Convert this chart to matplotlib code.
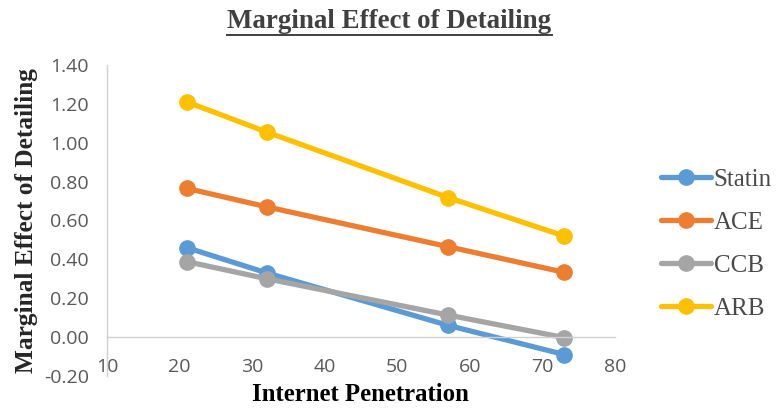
import matplotlib
matplotlib.use("Agg")
import matplotlib.pyplot as plt
from matplotlib.lines import Line2D

internet_penetration = [21, 32, 57, 73]
series_names = ["Statin", "ACE", "CCB", "ARB"]
statin = [0.46, 0.33, 0.06, -0.09]
ace = [0.765, 0.67, 0.465, 0.333]
ccb = [0.388, 0.30, 0.113, -0.003]
arb = [1.21, 1.055, 0.718, 0.52]
series_values = [statin, ace, ccb, arb]
colors = ["#5B9BD5", "#ED7D31", "#A5A5A5", "#FFC000"]
x_ticks = [10, 20, 30, 40, 50, 60, 70, 80]
y_ticks = [-0.2, 0.0, 0.2, 0.4, 0.6, 0.8, 1.0, 1.2, 1.4]

fig = plt.figure(figsize=(7.79, 4.08), dpi=100)
ax = fig.add_axes([0.1374, 0.0787, 0.7895 - 0.1374, 0.8407 - 0.0787])

for name, vals, c in zip(series_names, series_values, colors):
    ax.plot(internet_penetration, vals, color=c, lw=3.8, marker="o",
            markersize=11, label=name, solid_capstyle="round", clip_on=False)

ax.set_xlim(10, 80)
ax.set_ylim(-0.2, 1.4)
ax.set_xticks(x_ticks)
ax.set_yticks(y_ticks)
ax.set_yticklabels([f"{v:.2f}" for v in y_ticks])
for s in ["top", "right"]:
    ax.spines[s].set_visible(False)
ax.spines["bottom"].set_position(("data", 0))
ax.spines["bottom"].set_color("#D0D0D0")
ax.spines["left"].set_color("#D0D0D0")
ax.spines["bottom"].set_linewidth(1.0)
ax.spines["left"].set_linewidth(1.0)
ax.tick_params(axis="both", length=0, labelsize=14, labelcolor="#595959")
ax.tick_params(axis="x", pad=15)
ax.tick_params(axis="y", pad=13)
for lab in ax.get_xticklabels() + ax.get_yticklabels():
    lab.set_family("Open Sans")

serif = "Liberation Serif"
ax.set_ylabel("Marginal Effect of Detailing", family=serif, fontweight="bold",
              fontsize=18.3, color="#262626")
ax.yaxis.set_label_coords(-0.135, 0.5)
fig.text(0.463, 0.032, "Internet Penetration", family=serif, fontweight="bold",
         fontsize=17.8, color="#000000", ha="center", va="center")

title = fig.text(0.5, 0.948, "Marginal Effect of Detailing", family=serif,
                 fontweight="bold", fontsize=19.4, color="#404040",
                 ha="center", va="center")

leg = ax.legend(loc="center left", bbox_to_anchor=(1.07, 0.425),
                frameon=False, prop={"family": serif, "size": 18},
                labelcolor="#4A4A4A", handlelength=2.0, handletextpad=0.12,
                labelspacing=0.82, borderaxespad=0)

fig.canvas.draw()
bb = title.get_window_extent()
inv = fig.transFigure.inverted()
(x0, y0), (x1, y1) = inv.transform([[bb.x0, bb.y0], [bb.x1, bb.y0]])
fig.add_artist(Line2D([x0, x1], [y0 - 0.002, y0 - 0.002], color="#404040", lw=1.4,
                      transform=fig.transFigure))

fig.savefig("out.png", dpi=100)
